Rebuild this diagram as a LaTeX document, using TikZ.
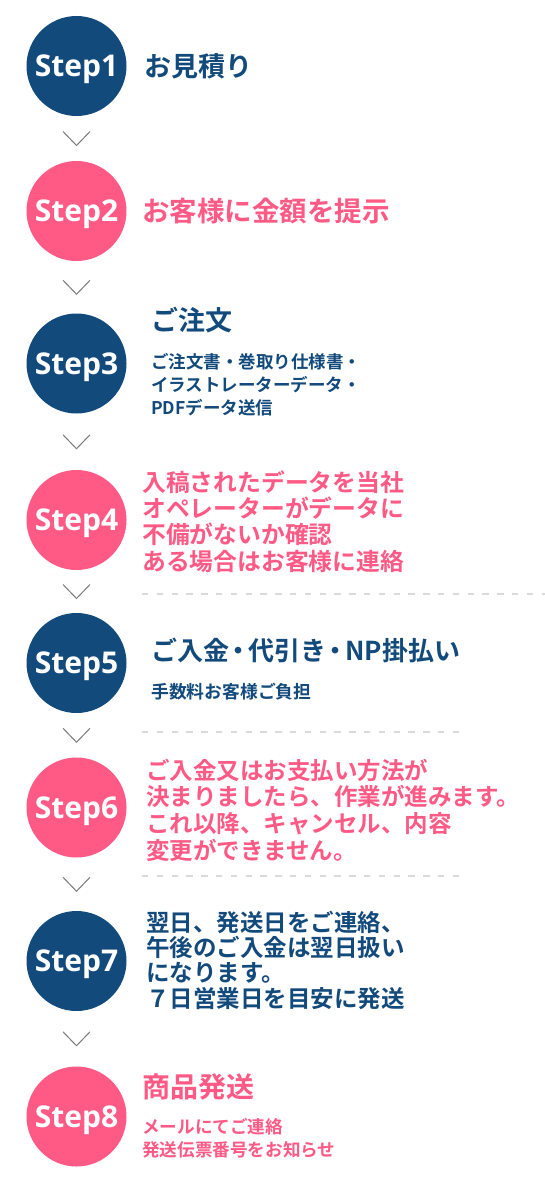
\documentclass[tikz,border=0pt]{standalone}
\usepackage{fontspec}
\newfontfamily\jp{Noto Sans CJK JP}[BoldFont={* Bold}]
\newfontfamily\stepfont{Open Sans}
\usetikzlibrary{calc}
\definecolor{navy}{HTML}{134A7C}
\definecolor{pinkc}{HTML}{FF5A86}
\definecolor{dashgray}{HTML}{DADADA}
\definecolor{chev}{HTML}{7A7A7A}
\tikzset{
  stepcircle/.style={circle, minimum size=100pt, inner sep=0pt,
    text=white, font=\stepfont\bfseries\fontsize{30}{30}\selectfont,
    text height=21.4pt, text depth=0pt},
  navycircle/.style={stepcircle, fill=navy},
  pinkcircle/.style={stepcircle, fill=pinkc},
  steptext/.style={anchor=west, inner sep=0pt, align=left},
  navytext/.style={steptext, text=navy},
  pinktext/.style={steptext, text=pinkc},
  chevron/.style={draw=chev, line width=1pt},
  sepline/.style={draw=dashgray, line width=1.6pt, dash pattern=on 6.3pt off 8.5pt},
}
\newcommand{\jpf}[2]{\jp\bfseries\fontsize{#1}{#2}\selectfont}
\newcommand{\tightdot}{\kern-3.5pt・\kern-3.5pt}
\begin{document}
\begin{tikzpicture}[x=1pt,y=-1pt]
\useasboundingbox[fill=white] (0,0) rectangle (545,1188);
% circles
\node[navycircle] (s1) at (76.5,66) {Step1};
\node[pinkcircle] (s2) at (76.5,211) {Step2};
\node[navycircle] (s3) at (76.5,363.5) {Step3};
\node[pinkcircle] (s4) at (76.5,520) {Step4};
\node[navycircle] (s5) at (76.5,663) {Step5};
\node[pinkcircle] (s6) at (76.5,807.5) {Step6};
\node[navycircle] (s7) at (76.5,961) {Step7};
\node[pinkcircle] (s8) at (76.5,1116.5) {Step8};
% chevrons
\foreach \i/\j in {1/2,2/3,3/4,4/5,5/6,6/7,7/8}{
  \coordinate (v\i) at ($(s\i.south)!0.5!(s\j.north)$);
  \draw[chevron] ($(v\i)+(-13.5,-7)$) -- ($(v\i)+(0,7)$) -- ($(v\i)+(13.5,-7)$);
}
% dashed separators
\coordinate (d1a) at (142,594); \coordinate (d1b) at (545,594);
\coordinate (d2a) at (142,732); \coordinate (d2b) at (462,732);
\coordinate (d3a) at (142,876); \coordinate (d3b) at (462,876);
\draw[sepline] (d1a) -- (d1b);
\draw[sepline] (d2a) -- (d2b);
\draw[sepline] (d3a) -- (d3b);
% texts
\node[navytext, font=\jpf{27}{32}] (t1) at (144,66) {お見積り};
\node[pinktext, font=\jpf{27.5}{32}] (t2) at (142,211) {お客様に金額を提示};
\node[navytext, font=\jpf{27}{32}] (t3) at (151,320) {ご注文};
\node[navytext, font=\jpf{17.5}{23}] (t3b) at (151,385) {ご注文書・巻取り仕様書・\\イラストレーターデータ・\\PDFデータ送信};
\node[pinktext, font=\jpf{23.8}{26.3}] (t4) at (142,521.5) {入稿されたデータを当社\\オペレーターがデータに\\不備がないか確認\\ある場合はお客様に連絡};
\node[navytext, font=\jpf{26}{30}] (t5) at (151,650) {ご入金\tightdot 代引き\tightdot NP掛払い};
\node[navytext, font=\jpf{17.8}{22}] (t5b) at (151,692) {手数料お客様ご負担};
\node[pinktext, font=\jpf{23.5}{26.7}] (t6) at (146,810) {ご入金又はお支払い方法が\\決まりましたら、作業が進みます。\\これ以降、キャンセル、内容\\変更ができません。};
\node[navytext, font=\jpf{23.5}{25.3}] (t7) at (146,960) {翌日、発送日をご連絡、\\午後のご入金は翌日扱い\\になります。\\７日営業日を目安に発送};
\node[pinktext, font=\jpf{28}{32}] (t8) at (142,1087) {商品発送};
\node[pinktext, font=\jpf{17.6}{23}] (t8b) at (142,1138.5) {メールにてご連絡\\発送伝票番号をお知らせ};
\end{tikzpicture}
\end{document}
